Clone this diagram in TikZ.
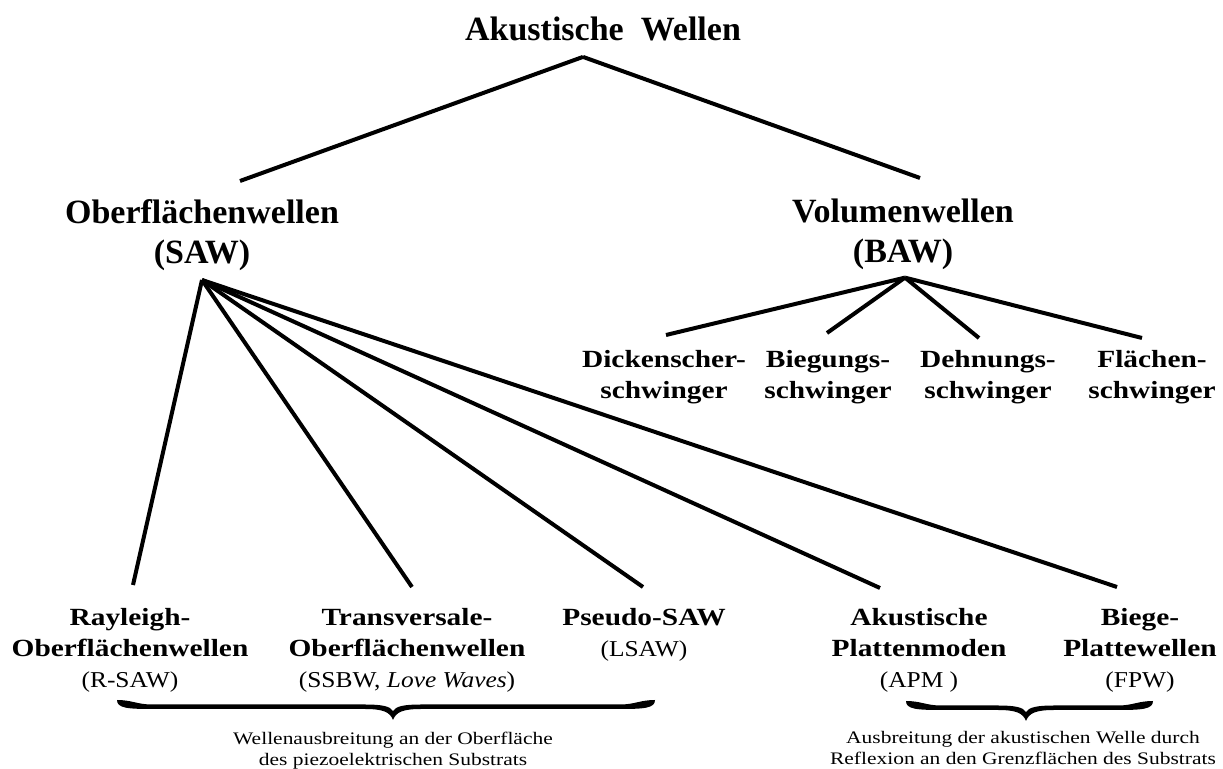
\documentclass[tikz,border=0pt]{standalone}
\usepackage{fontspec}
\setmainfont{Liberation Serif}
\newfontfamily\labfont[FakeStretch=1.19]{Liberation Serif}
\newfontfamily\parfont[FakeStretch=1.12]{Liberation Serif}
\newfontfamily\notefont[FakeStretch=1.22]{Liberation Serif}
% abbreviation line under a label
\newcommand\kurz[1]{{\parfont\mdseries\fontsize{11.35}{15.5}\selectfont#1}}
% underbrace as filled path: left x, tip x, right x, top y
\newcommand\ubrace[4]{\fill (#1,#4) .. controls (#1,#4+8) and (#1+10,#4+9) .. (#1+35,#4+9) -- (#2-28,#4+9) .. controls (#2-10,#4+9) and (#2-3,#4+12) .. (#2,#4+20) .. controls (#2+3,#4+12) and (#2+10,#4+9) .. (#2+28,#4+9) -- (#3-35,#4+9) .. controls (#3-10,#4+9) and (#3,#4+8) .. (#3,#4) .. controls (#3-15,#4) and (#3-20,#4+4.5) .. (#3-35,#4+4.5) -- (#2+28,#4+4.5) .. controls (#2+12,#4+4.5) and (#2+3,#4+6) .. (#2,#4+11) .. controls (#2-3,#4+6) and (#2-12,#4+4.5) .. (#2-28,#4+4.5) -- (#1+35,#4+4.5) .. controls (#1+20,#4+4.5) and (#1+15,#4) .. (#1,#4) -- cycle;}

\begin{document}
\begin{tikzpicture}[x=0.5pt,y=-0.5pt,
head/.style={font=\fontsize{17}{20}\selectfont\bfseries,align=center,inner sep=0pt},
lab/.style={font=\labfont\fontsize{12.35}{15.5}\selectfont\bfseries,align=center,inner sep=0pt,anchor=north},
note/.style={font=\notefont\fontsize{8.8}{10.5}\selectfont,align=center,inner sep=0pt,anchor=north},
ln/.style={line width=2pt}]
\useasboundingbox (0,0) rectangle (1223,769);
\node[head,anchor=base](title) at (603,41){Akustische\ \ Wellen};
\node[head,anchor=north](saw) at (202,199){Oberflächenwellen\\(SAW)};
\node[head,anchor=north](vol) at (903,199){Volumenwellen\\(BAW)};
% BAW types
\node[lab](dick) at (664,350){Dickenscher-\\schwinger};
\node[lab](bieg) at (828,350){Biegungs-\\schwinger};
\node[lab](dehn) at (988,350){Dehnungs-\\schwinger};
\node[lab](flae) at (1152,350){Flächen-\\schwinger};
% SAW types
\node[lab](rsaw) at (130,608){Rayleigh-\\Oberflächenwellen\\\kurz{(R-SAW)}};
\node[lab](ssbw) at (407,608){Transversale-\\Oberflächenwellen\\\kurz{(SSBW, \textit{Love Waves})}};
\node[lab](lsaw) at (644,608){Pseudo-SAW\\\kurz{(LSAW)}};
\node[lab](apm) at (919,608){Akustische\\Plattenmoden\\\kurz{(APM )}};
\node[lab](fpw) at (1140,608){Biege-\\Plattewellen\\\kurz{(FPW)}};
\coordinate(toptip) at ([shift={(-20,15)}]title.south);
\coordinate(sawtip) at ([shift={(0,9)}]saw.south);
\coordinate(bawtip) at ([shift={(2,7)}]vol.south);
\draw[ln](toptip)--([shift={(38,-18)}]saw.north);
\draw[ln](toptip)--([shift={(17,-21)}]vol.north);
\foreach \n/\dx/\dy in {dick/2/-15,bieg/-1/-17,dehn/-9/-12,flae/-10/-12}
  \draw[ln](bawtip)--([shift={(\dx,\dy)}]\n.north);
\foreach \n/\dx/\dy in {rsaw/3/-23,ssbw/5/-21,lsaw/-1/-21,apm/-39/-20,fpw/-23/-21}
  \draw[ln](sawtip)--([shift={(\dx,\dy)}]\n.north);
% braces
\ubrace{117}{393}{655}{700}
\ubrace{906}{1026}{1153}{701}
\node[note](surf) at (393,732){Wellenausbreitung an der Oberfläche\\des piezoelektrischen Substrats};
\node[note](refl) at (1023,731){Ausbreitung der akustischen Welle durch\\Reflexion an den Grenzflächen des Substrats};
\end{tikzpicture}
\end{document}
